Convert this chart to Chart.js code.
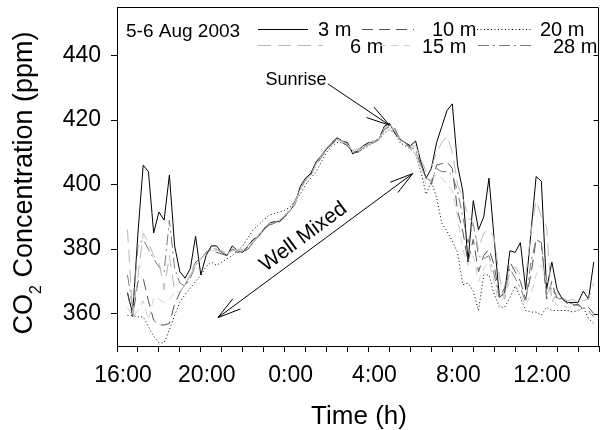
<!DOCTYPE html>
<html>
<head>
<meta charset="utf-8">
<script src="https://cdn.jsdelivr.net/npm/chart.js@4.4.1/dist/chart.umd.min.js"></script>
<style>
  html, body { margin: 0; padding: 0; background: #fff; }
  #wrap { width: 604px; height: 430px; }
</style>
</head>
<body>
<div id="wrap"><canvas id="graph" width="604" height="430"></canvas></div>
<script>
// 15 min samples, 16:30 on 5 Aug to 14:45 on 6 Aug (hours counted from 0:00 on 5 Aug)
const startHour = 16.5;
const stepHours = 0.25;

const yTickValues = [360, 380, 400, 420, 440];

// CO2 (ppm) at each height
const co2_3m = [366.5, 360, 385, 406, 404, 385, 391.5, 389, 403, 381,
  373, 371, 374, 384, 372, 378, 381, 381, 379, 378,
  381, 379.5, 379, 381, 383, 384, 386, 388, 388.5, 388.5,
  390, 392, 394, 399.5, 402, 403.5, 407, 409, 411, 413,
  414.5, 413.5, 413, 409.5, 410.5, 412, 413, 413, 414, 418,
  419, 416, 414, 413, 412, 413.5, 407, 402, 405, 413,
  418, 423, 425, 406, 398, 376, 395, 386, 390, 402,
  383, 365, 366.5, 379.5, 379, 382, 367.5, 385, 402.5, 401,
  367.5, 376, 367.5, 364.5, 363.5, 363.5, 363.5, 367, 364.5, 376];

const co2_6m = [386, 360, 371.5, 385, 382, 378, 376, 367.5, 378, 367,
  366.5, 369, 372, 375, 377, 379, 380.5, 380, 379.5, 378.5,
  379.5, 380, 380, 381, 382.5, 384, 386.5, 388, 388, 389,
  390.5, 392.5, 394, 399, 401.5, 403, 406.5, 409, 411.5, 413,
  414, 413.5, 412.5, 410.5, 411, 412, 413, 413.5, 414, 417.5,
  418.5, 417, 414.5, 413, 412, 412, 408, 404, 405, 410,
  413, 415, 410, 400, 396, 390, 388, 380, 385, 386,
  383.5, 371.5, 364.5, 373.5, 374.5, 372, 371.5, 385, 395, 390,
  387, 363.5, 366.5, 365, 364, 364.5, 363.5, 364, 364.5, 369.5];

const co2_10m = [366.5, 359, 370, 371, 364, 358, 356.5, 356.5, 357, 363,
  366.5, 369, 372, 376, 377, 379, 380, 379, 378.5, 378,
  380, 379, 379, 380, 382, 384, 386, 387.5, 388, 389,
  390, 392, 395, 398.5, 401.5, 403, 406, 408.5, 411, 412.5,
  414, 413, 412, 410, 410, 411.5, 412.5, 413, 414.5, 417,
  418, 417.5, 414, 413, 411, 410, 406, 402, 400, 406,
  406.5, 407, 405, 392, 385.5, 376, 383, 373, 378, 380,
  375, 365, 368, 376, 373, 370, 364.5, 372, 383, 382,
  364.5, 370, 364, 365, 363, 362.5, 363, 361.5, 362, 360];

const co2_15m = [362, 359, 361, 364, 358, 365, 364.5, 363.5, 364.5, 366.5,
  367, 369, 372, 375.5, 377, 378.5, 379.5, 379.5, 379, 378.5,
  379.5, 379.5, 380, 381, 382.5, 384.5, 386.5, 388, 388.5, 389,
  390.5, 392, 394.5, 398.5, 401, 403, 406, 409, 411.5, 413,
  414, 413, 412.5, 410.5, 410.5, 411.5, 412.5, 413, 414.5, 416.5,
  417.5, 417, 413.5, 412.5, 411, 410, 404.5, 400, 402, 403,
  402, 400, 398, 390, 380, 375, 378, 370, 374, 376,
  370, 362, 366, 370, 369, 366, 362.5, 366, 372, 375,
  370, 365, 362.5, 362.5, 362, 361.5, 361, 361.5, 360, 360];

const co2_20m = [359.5, 359.5, 359, 359, 356, 353, 351, 351, 355, 359.5,
  363.5, 366, 368, 370, 372, 374.5, 376, 375, 376, 377,
  378, 379.5, 381, 383.5, 386, 387.5, 389, 390.5, 391, 391.5,
  392, 393, 395, 397, 400, 402, 404, 407, 410, 412,
  413, 413, 412, 410, 410, 411, 412, 413, 414, 416,
  417, 416, 413, 412, 411, 409.5, 404, 397, 401, 396,
  388, 385.5, 382.5, 379, 369, 369.5, 367, 361, 372, 372,
  366, 362, 362, 365, 368.5, 365, 361, 360.5, 360.5, 359.5,
  362, 361, 361, 361, 361, 360.5, 361, 362, 358.5, 357];

const co2_28m = [372, 362, 381, 383, 380, 377, 374.5, 373, 389, 374,
  369.5, 368.5, 371, 375, 377, 379, 380.5, 380, 379, 378.5,
  380, 379, 379.5, 380.5, 382, 384, 386, 387.5, 388, 389,
  390, 392, 394.5, 399, 401.5, 403, 406.5, 408.5, 411, 413,
  414, 413.5, 412.5, 410, 410.5, 411.5, 412.5, 413.5, 414, 417,
  418, 417, 414, 413, 411.5, 411, 406, 402, 401, 405,
  404, 404, 403, 398, 390, 382, 388, 378, 377, 378,
  372, 365, 367, 374, 371, 368, 363.5, 376, 383, 382,
  366, 368, 365, 364, 363.5, 363, 362.5, 362, 361, 359];

const times = co2_3m.map((v, i) => startHour + i * stepHours);

const FONT = "'Liberation Sans', Arial, Helvetica, sans-serif";

// line styles per height
const series = [
  { label: '6 m',  data: co2_6m,  color: '#b8b8b8', dash: [13, 7] },
  { label: '15 m', data: co2_15m, color: '#d0d0d0', dash: [8, 5] },
  { label: '28 m', data: co2_28m, color: '#7a7a7a', dash: [11, 4, 2, 4] },
  { label: '10 m', data: co2_10m, color: '#555555', dash: [11, 6] },
  { label: '20 m', data: co2_20m, color: '#000000', dash: [1, 2.5] },
  { label: '3 m',  data: co2_3m,  color: '#000000', dash: [] }
];

function arrowHead(ctx, tx, ty, fx, fy, len) {
  const a = Math.atan2(fy - ty, fx - tx);
  const spread = 0.27;
  ctx.beginPath();
  ctx.moveTo(tx + len * Math.cos(a + spread), ty + len * Math.sin(a + spread));
  ctx.lineTo(tx, ty);
  ctx.lineTo(tx + len * Math.cos(a - spread), ty + len * Math.sin(a - spread));
  ctx.stroke();
}

const decorations = {
  id: 'decorations',
  afterDraw(chart) {
    const ctx = chart.ctx;
    const area = chart.chartArea;
    const xs = chart.scales.x, ys = chart.scales.y;
    const byLabel = {};
    series.forEach(s => byLabel[s.label] = s);
    ctx.save();

    // box: top and right edges + inner ticks on the right
    ctx.strokeStyle = '#000';
    ctx.lineWidth = 1;
    ctx.setLineDash([]);
    ctx.beginPath();
    ctx.moveTo(Math.round(area.left) + 0.5, Math.round(area.top) + 0.5);
    ctx.lineTo(Math.round(area.right) - 0.5, Math.round(area.top) + 0.5);
    ctx.lineTo(Math.round(area.right) - 0.5, Math.round(area.bottom) + 0.5);
    ys.ticks.forEach(t => {
      const y = Math.round(ys.getPixelForValue(t.value)) + 0.5;
      ctx.moveTo(Math.round(area.right) - 0.5, y);
      ctx.lineTo(Math.round(area.right) - 5.5, y);
    });
    ctx.stroke();

    // legend block
    ctx.fillStyle = '#000';
    ctx.textBaseline = 'alphabetic';
    ctx.textAlign = 'left';
    ctx.font = '19px ' + FONT;
    ctx.fillText('5-6 Aug 2003', 126, 37);
    const legendRows = [
      [['3 m', 258, 308, 318], ['10 m', 362, 414, 432], ['20 m', 477, 532, 540]],
      [['6 m', 258, 323, 350], ['15 m', 378, 410, 422], ['28 m', 478, 533, 553]]
    ];
    legendRows.forEach((row, r) => {
      const ly = r === 0 ? 29.5 : 45.5;
      const ty = r === 0 ? 36 : 53;
      row.forEach(([name, x1, x2, tx]) => {
        const s = byLabel[name];
        ctx.font = '20px ' + FONT;
        ctx.fillStyle = '#000';
        ctx.fillText(name, tx, ty);
        ctx.strokeStyle = s.color;
        ctx.setLineDash(s.dash);
        ctx.beginPath();
        ctx.moveTo(x1, ly);
        ctx.lineTo(x2, ly);
        ctx.stroke();
      });
    });
    ctx.setLineDash([]);

    // sunrise note
    ctx.strokeStyle = '#000';
    ctx.fillStyle = '#000';
    ctx.font = '18px ' + FONT;
    ctx.textAlign = 'right';
    const sx = xs.getPixelForValue(26.0), sy = ys.getPixelForValue(433);
    ctx.fillText('Sunrise', sx, sy + 7);
    const s0x = xs.getPixelForValue(26.06), s0y = ys.getPixelForValue(431.2);
    const s1x = xs.getPixelForValue(29.0), s1y = ys.getPixelForValue(418.4);
    ctx.beginPath();
    ctx.moveTo(s0x, s0y);
    ctx.lineTo(s1x, s1y);
    ctx.stroke();
    arrowHead(ctx, s1x, s1y, s0x, s0y, 24);

    // well mixed double arrow
    const w0x = xs.getPixelForValue(20.82), w0y = ys.getPixelForValue(358.8);
    const w1x = xs.getPixelForValue(30.11), w1y = ys.getPixelForValue(403.4);
    ctx.beginPath();
    ctx.moveTo(w0x, w0y);
    ctx.lineTo(w1x, w1y);
    ctx.stroke();
    arrowHead(ctx, w0x, w0y, w1x, w1y, 24);
    arrowHead(ctx, w1x, w1y, w0x, w0y, 24);
    ctx.save();
    ctx.translate(xs.getPixelForValue(24.9), ys.getPixelForValue(383.8));
    ctx.rotate(Math.atan2(w1y - w0y, w1x - w0x));
    ctx.font = '21px ' + FONT;
    ctx.textAlign = 'center';
    ctx.textBaseline = 'middle';
    ctx.fillText('Well Mixed', 0, 0);
    ctx.restore();

    // axis titles
    ctx.textAlign = 'center';
    ctx.textBaseline = 'alphabetic';
    ctx.font = '26px ' + FONT;
    ctx.fillText('Time (h)', (area.left + area.right) / 2 + 1, 424);

    ctx.save();
    ctx.translate(32, 183);
    ctx.rotate(-Math.PI / 2);
    ctx.textAlign = 'left';
    const big = '27px ' + FONT, small = '16px ' + FONT;
    ctx.font = big;
    const wCO = ctx.measureText('CO').width;
    const wRest = ctx.measureText(' Concentration (ppm)').width;
    ctx.font = small;
    const w2 = ctx.measureText('2').width;
    let px = -(wCO + w2 + wRest) / 2;
    ctx.font = big;
    ctx.fillText('CO', px, 0);
    px += wCO;
    ctx.font = small;
    ctx.fillText('2', px, 9);
    px += w2;
    ctx.font = big;
    ctx.fillText(' Concentration (ppm)', px, 0);
    ctx.restore();

    ctx.restore();
  }
};

new Chart(document.getElementById('graph'), {
  type: 'line',
  data: {
    datasets: series.map(s => ({
      label: s.label,
      data: times.map((t, i) => ({ x: t, y: s.data[i] })),
      borderColor: s.color,
      borderDash: s.dash,
      borderWidth: 1,
      pointRadius: 0,
      tension: 0,
      fill: false
    }))
  },
  options: {
    responsive: false,
    animation: false,
    layout: { padding: { left: 0, right: 5, top: 7, bottom: 0 } },
    plugins: { legend: { display: false }, tooltip: { enabled: false } },
    scales: {
      x: {
        type: 'linear',
        min: 16,
        max: 39,
        afterFit: scale => {
          scale.height = 84;
          scale.paddingLeft = 0;
          scale.paddingRight = 0;
        },
        ticks: {
          stepSize: 1,
          autoSkip: false,
          maxRotation: 0,
          padding: 10,
          labelOffset: 6,
          color: '#000',
          font: { family: FONT, size: 23 },
          callback: v => (v % 4 === 0 ? (v % 24) + ':00' : '')
        },
        grid: { drawOnChartArea: false, drawTicks: true, tickLength: 6, color: '#000' },
        border: { color: '#000', width: 1 }
      },
      y: {
        min: 350,
        max: 455,
        afterBuildTicks: scale => { scale.ticks = yTickValues.map(v => ({ value: v })); },
        afterFit: scale => {
          scale.width = 117;
          scale.paddingTop = 0;
          scale.paddingBottom = 0;
        },
        ticks: {
          padding: 10,
          color: '#000',
          font: { family: FONT, size: 23 }
        },
        grid: { drawOnChartArea: false, drawTicks: true, tickLength: 6, color: '#000' },
        border: { color: '#000', width: 1 }
      }
    }
  },
  plugins: [decorations]
});
</script>
</body>
</html>
